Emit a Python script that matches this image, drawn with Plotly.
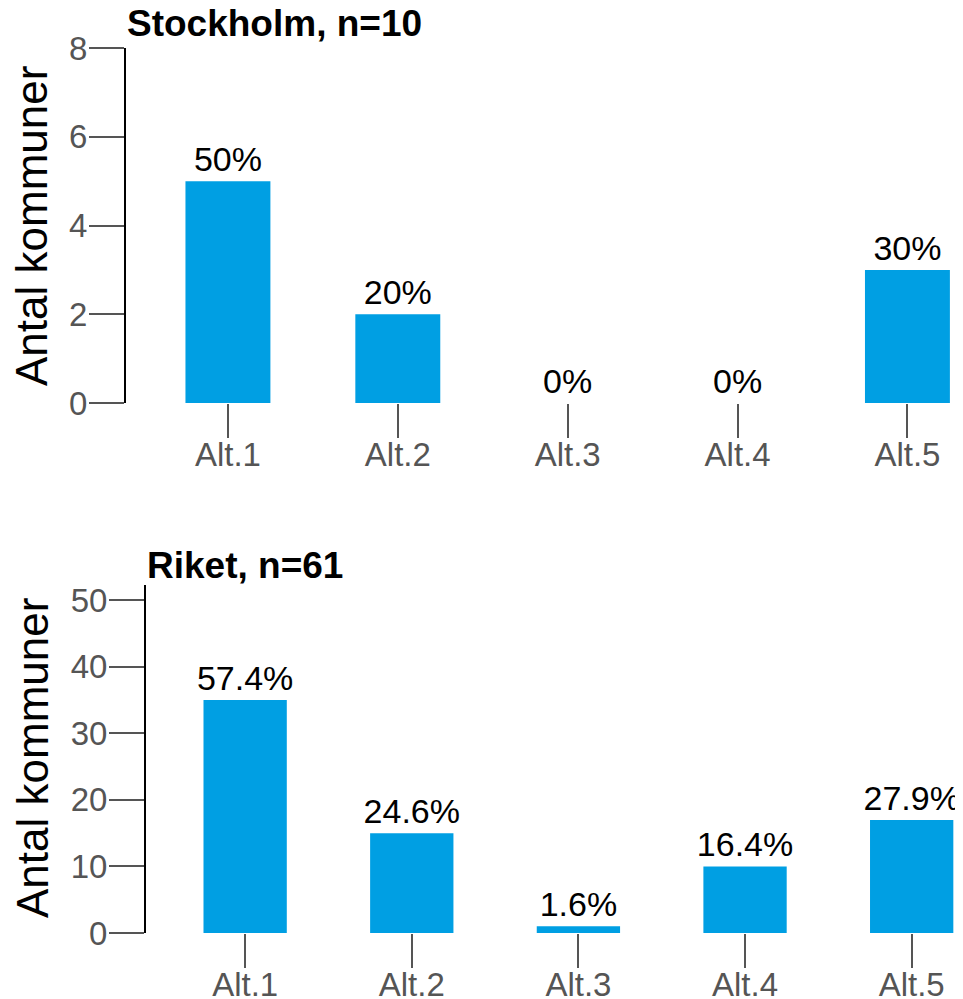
import plotly.graph_objects as go

# Data
alternativ = ["Alt.1", "Alt.2", "Alt.3", "Alt.4", "Alt.5"]
stockholm_antal = [5, 2, 0, 0, 3]
stockholm_pct = ["50%", "20%", "0%", "0%", "30%"]
riket_antal = [35, 15, 1, 10, 17]
riket_pct = ["57.4%", "24.6%", "1.6%", "16.4%", "27.9%"]

BLUE = "#009FE3"
GREY = "#555555"
FONT = "Liberation Sans, Arial, sans-serif"
W, H = 963, 999
OFF = 8  # page body margin


def px_x(p):
    return (p - OFF) / W


def px_y(p):
    return 1 - (p - OFF) / H


fig = go.Figure()

fig.add_trace(go.Bar(
    x=alternativ, y=stockholm_antal, text=stockholm_pct,
    textposition="outside", textfont=dict(size=34, color="black"),
    constraintext="none",
    marker=dict(color=BLUE, line=dict(width=0)), width=0.5,
    cliponaxis=False, xaxis="x", yaxis="y", showlegend=False
))
fig.add_trace(go.Bar(
    x=alternativ, y=riket_antal, text=riket_pct,
    textposition="outside", textfont=dict(size=34, color="black"),
    constraintext="none",
    marker=dict(color=BLUE, line=dict(width=0)), width=0.5,
    cliponaxis=False, xaxis="x2", yaxis="y2", showlegend=False
))

xax = dict(
    showline=False, showgrid=False, zeroline=False, automargin=False,
    ticks="outside", ticklen=34, tickwidth=1.5, tickcolor=GREY,
    tickfont=dict(size=33, color=GREY, family=FONT),
    ticklabelstandoff=-12,
    type="category",
)
yax = dict(
    showline=True, linecolor="black", linewidth=2, automargin=False,
    showgrid=False, zeroline=False,
    ticks="outside", ticklen=35, tickwidth=1.5, tickcolor=GREY,
    tickfont=dict(size=33, color=GREY, family=FONT),
    ticklabelstandoff=-5,
)

fig.update_layout(
    width=W, height=H, autosize=False,
    margin=dict(l=0, r=0, t=0, b=0),
    plot_bgcolor="white", paper_bgcolor="white",
    font=dict(family=FONT),
    xaxis=dict(xax, domain=[px_x(126), px_x(955)], range=[-0.6, 4.28], anchor="y"),
    yaxis=dict(yax, domain=[px_y(403), px_y(48)], range=[0, 8], dtick=2, anchor="x"),
    xaxis2=dict(xax, domain=[px_x(146), px_x(955)], range=[-0.595, 4.26], anchor="y2"),
    yaxis2=dict(yax, domain=[px_y(933), px_y(585)], range=[0, 52.3], dtick=10, anchor="x2"),
)

# Titles
fig.add_annotation(text="<b>Stockholm, n=10</b>", x=px_x(125), y=px_y(24),
                   xref="paper", yref="paper", xanchor="left", yanchor="middle",
                   showarrow=False, font=dict(size=37, color="black", family=FONT))
fig.add_annotation(text="<b>Riket, n=61</b>", x=px_x(145), y=px_y(565),
                   xref="paper", yref="paper", xanchor="left", yanchor="middle",
                   showarrow=False, font=dict(size=37, color="black", family=FONT))

# Axis titles
for yc in (226, 758):
    fig.add_annotation(text="Antal kommuner", x=px_x(32), y=px_y(yc),
                       xref="paper", yref="paper", xanchor="center", yanchor="middle",
                       textangle=-90, showarrow=False,
                       font=dict(size=44, color="black", family=FONT))

fig.write_html("out.html")
